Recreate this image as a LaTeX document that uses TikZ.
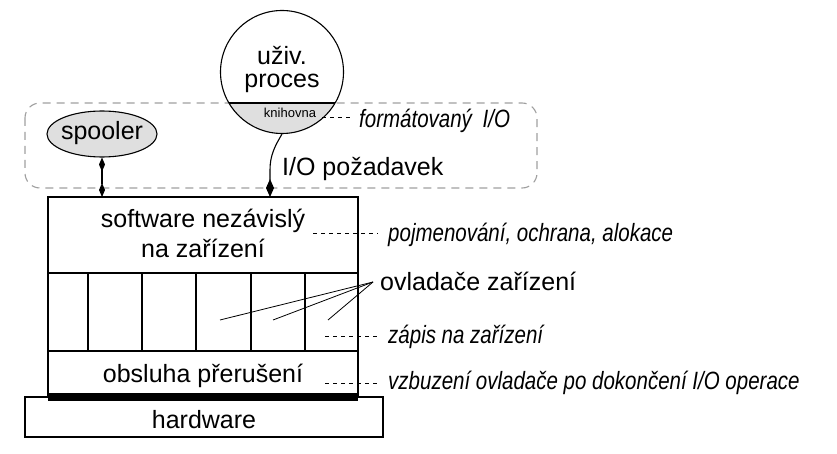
\documentclass[tikz,border=0pt]{standalone}
\usepackage{fontspec}
\setmainfont{Liberation Sans}
\newfontfamily\condit{Liberation Sans}[FakeStretch=0.82]
\usetikzlibrary{arrows.meta,shapes.geometric}
\begin{document}
\begin{tikzpicture}[x=1pt,y=-1pt,
  box/.style={draw, line width=1.1pt, inner sep=0, outer sep=0, rectangle},
  lab/.style={font=\fontsize{25}{28}\selectfont, inner sep=0, anchor=base},
  labw/.style={font=\fontsize{25}{28}\selectfont, inner sep=0, anchor=base west},
  itlab/.style={font=\fontsize{25}{28}\selectfont\condit\itshape, inner sep=0, anchor=base west},
  leader/.style={line width=0.8pt, dash pattern=on 4pt off 4pt},
  conn/.style={line width=1.1pt},
  thin/.style={line width=0.8pt}]
\useasboundingbox (0,0) rectangle (837,454);

% dashed region (library level)
\draw[gray!75, line width=1.1pt, dash pattern=on 8pt off 6pt, rounded corners=15pt] (25,103) rectangle (537,188);

% user process circle
\begin{scope}
  \clip (282,72) circle[radius=61.5pt];
  \fill[gray!25] (210,103) rectangle (355,140);
\end{scope}
\node[circle, draw, line width=1.1pt, minimum size=123pt, inner sep=0] (proc) at (282,72) {};
\draw[line width=1.1pt] (229,103) -- (335,103);
\node[lab] (u1) at (282,65) {uživ.};
\node[lab] (u2) at (282,88) {proces};
\node[font=\fontsize{13}{14}\selectfont, inner sep=0, anchor=base] (kn) at (290,118) {knihovna};
\coordinate (kl1) at (322,117);
\coordinate (kl2) at (353,117);
\draw[leader] (kl1) -- (kl2);
\node[itlab] (fio) at (359,128) {formátovaný\hspace{5pt} I/O};

% spooler
\node[ellipse, draw, line width=1.1pt, fill=gray!25, minimum width=110pt, minimum height=46pt, inner sep=0] (sp) at (102,134) {};
\node[lab] (spt) at (102,140) {spooler};

% layer boxes
\node[box, minimum width=310pt, minimum height=76pt, anchor=north west] (sw) at (48,197) {};
\node[box, minimum width=310pt, minimum height=78pt, anchor=north west] (drv) at (48,273) {};
\node[box, minimum width=310pt, minimum height=46pt, anchor=north west] (isr) at (48,351) {};
\node[box, minimum width=358pt, minimum height=40pt, anchor=north west] (hw) at (25,397) {};
\draw[line width=7.5pt] (isr.south west) -- (isr.south east);
\foreach \x in {88,142,196,251,305} \draw[line width=1.1pt] (\x,273) -- (\x,351);

\node[lab] (sw1) at (203,228) {software nezávislý};
\node[lab] (sw2) at (203,258) {na zařízení};
\node[lab] (isrt) at (203,382) {obsluha přerušení};
\node[lab] (hwt) at (204,428) {hardware};

% connectors
\draw[conn, {Diamond[length=14pt,width=6pt]}-{Diamond[length=14pt,width=6pt]}] (sp.south) -- (sp.south |- sw.north);
\coordinate (pin) at (270,0);
\draw[conn, -{Diamond[length=18pt,width=8pt]}] (proc.south) .. controls (275,146) and (270,155) .. (270,170) -- (pin |- sw.north);
\node[labw] (req) at (282,176) {I/O požadavek};

% right side labels
\node[labw] (ovl) at (380,290) {ovladače zařízení};
\coordinate (ovp) at (373,282);
\coordinate (d1) at (220,320);
\coordinate (d2) at (273,320);
\coordinate (d3) at (328,320);
\draw[thin] (ovp) -- (d1);
\draw[thin] (ovp) -- (d2);
\draw[thin] (ovp) -- (d3);

\coordinate (p1) at (313,233);
\coordinate (p2) at (378,233);
\draw[leader] (p1) -- (p2);
\node[itlab] (pl) at (388,241) {pojmenování, ochrana, alokace};

\coordinate (z1) at (325,336);
\coordinate (z2) at (378,336);
\draw[leader] (z1) -- (z2);
\node[itlab] (zl) at (388,343) {zápis na zařízení};

\coordinate (v1) at (325,383);
\coordinate (v2) at (378,383);
\draw[leader] (v1) -- (v2);
\node[itlab] (vl) at (388,389) {vzbuzení ovladače po dokončení I/O operace};
\end{tikzpicture}
\end{document}
